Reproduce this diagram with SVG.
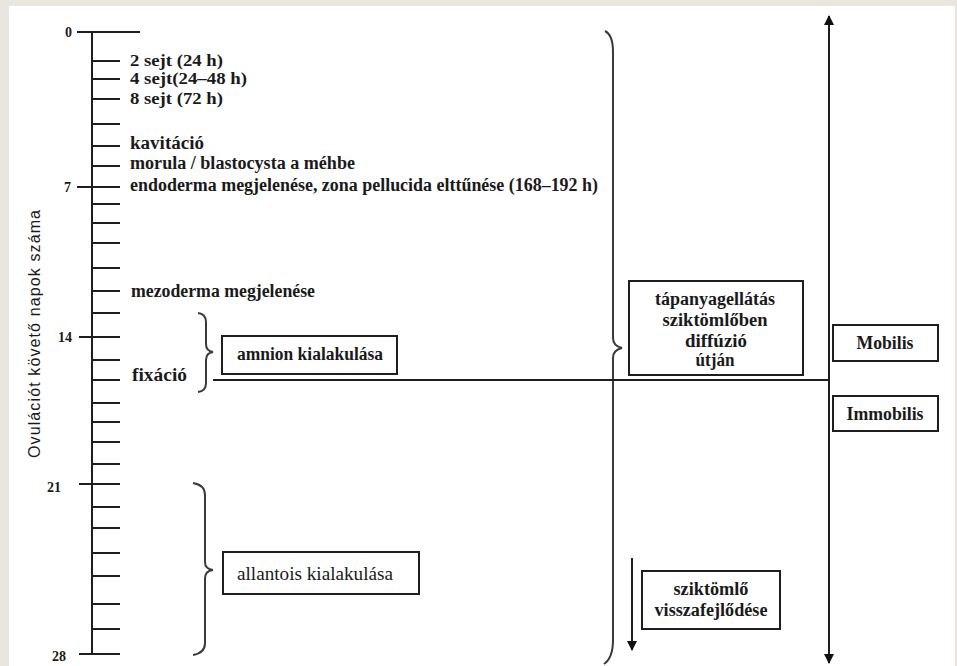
<svg xmlns="http://www.w3.org/2000/svg" width="957" height="666" viewBox="0 0 957 666">
<defs>
<style>
.bg{fill:#e9e5df}
.panel{fill:#ffffff}
.ln{stroke:#1e1e1e;stroke-width:2;fill:none}
.br{stroke:#3a3a3a;stroke-width:2;fill:none}
.box{fill:#ffffff;stroke:#1e1e1e;stroke-width:2}
.t{font-family:"Liberation Serif","Times New Roman",serif;font-size:18px;font-weight:bold;fill:#1a1a1a}
.s{font-size:16px}
.tn{font-family:"Liberation Serif","Times New Roman",serif;font-size:18px;fill:#1a1a1a}
.num{font-family:"Liberation Serif","Times New Roman",serif;font-size:14px;font-weight:bold;fill:#1a1a1a}
.ax{font-family:"Liberation Sans",Arial,sans-serif;font-size:16px;fill:#1a1a1a}
.c{text-anchor:middle}
</style>
<marker id="ah" viewBox="0 0 10 10" refX="9" refY="5" markerWidth="10" markerHeight="10" markerUnits="userSpaceOnUse" orient="auto-start-reverse">
<path d="M0,0 L10,5 L0,10 Z" fill="#111"/>
</marker>
</defs>
<rect class="bg" x="0" y="0" width="957" height="666"/>
<rect class="panel" x="9" y="6" width="946" height="660"/>

<g id="axis">
<line class="ln" x1="92" y1="31" x2="92" y2="655"/>
<path class="ln" d="M77,32H140 M77,187H120 M79,337H120 M79,484H120 M79,654H120"/>
<path class="ln" d="M92,61H120 M92,79H120 M92,99H120 M92,124H120 M92,146H120 M92,166H120 M92,204H120 M92,223H120 M92,243H120 M92,268H120 M92,291H120 M92,313H120 M92,360H120 M92,380H120 M92,403H120 M92,422H120 M92,442H120 M92,464H120 M92,507H120 M92,528H120 M92,553H120 M92,576H120 M92,604H120 M92,629H120"/>
<text class="num" x="65" y="37">0</text>
<text class="num" x="64" y="192">7</text>
<text class="num" x="58" y="342">14</text>
<text class="num" x="47" y="492">21</text>
<text class="num" x="52" y="661">28</text>
<text class="ax" x="0" y="0" transform="translate(40,334) rotate(-90)" text-anchor="middle" textLength="248" lengthAdjust="spacing">Ovulációt követő napok száma</text>
</g>

<g id="events">
<text class="t s" x="130" y="66" textLength="93" lengthAdjust="spacingAndGlyphs">2 sejt (24 h)</text>
<text class="t s" x="130" y="84" textLength="117" lengthAdjust="spacingAndGlyphs">4 sejt(24–48 h)</text>
<text class="t s" x="130" y="104" textLength="93" lengthAdjust="spacingAndGlyphs">8 sejt (72 h)</text>
<text class="t" x="130" y="149" textLength="74" lengthAdjust="spacingAndGlyphs">kavitáció</text>
<text class="t" x="130" y="169" textLength="225" lengthAdjust="spacingAndGlyphs">morula / blastocysta a méhbe</text>
<text class="t" x="130" y="191" textLength="468" lengthAdjust="spacingAndGlyphs">endoderma megjelenése, zona pellucida elttűnése (168–192 h)</text>
<text class="t" x="131" y="297" textLength="184" lengthAdjust="spacingAndGlyphs">mezoderma megjelenése</text>
<text class="t" x="132" y="381" textLength="55" lengthAdjust="spacingAndGlyphs">fixáció</text>
</g>

<g id="connectors">
<path class="br" d="M198,313 Q206,314 206,322 V344 Q206,351 213,352 Q206,353 206,360 V383 Q206,391 198,392"/>
<path class="br" d="M193,483 Q205,485 205,495 V562 Q205,569 213,570 Q205,571 205,578 V643 Q205,653 193,655"/>
<path class="br" d="M605,31 Q613,35 613,52 V338 Q613,346 622,348 Q613,350 613,358 V640 Q613,658 604,664"/>
<line class="ln" x1="213" y1="380" x2="830" y2="380"/>
<line class="ln" x1="829" y1="16" x2="829" y2="663" marker-start="url(#ah)" marker-end="url(#ah)"/>
<line class="ln" x1="632" y1="558" x2="632" y2="650" marker-end="url(#ah)"/>
</g>

<g id="amnion">
<rect class="box" x="222" y="336" width="175" height="38"/>
<text class="t" x="237" y="360" textLength="146" lengthAdjust="spacingAndGlyphs">amnion kialakulása</text>
</g>

<g id="allantois">
<rect class="box" x="223" y="552" width="196" height="42"/>
<text class="tn" x="237" y="580" textLength="156" lengthAdjust="spacingAndGlyphs">allantois kialakulása</text>
</g>

<g id="tapanyag">
<rect class="box" x="629" y="281" width="174" height="94"/>
<text class="t c" x="715" y="305" textLength="120" lengthAdjust="spacingAndGlyphs">tápanyagellátás</text>
<text class="t c" x="715" y="326" textLength="105" lengthAdjust="spacingAndGlyphs">sziktömlőben</text>
<text class="t c" x="716" y="347" textLength="62" lengthAdjust="spacingAndGlyphs">diffúzió</text>
<text class="t c" x="715" y="366" textLength="39" lengthAdjust="spacingAndGlyphs">útján</text>
</g>

<g id="mobilis">
<rect class="box" x="833" y="325" width="105" height="36"/>
<text class="t c" x="885" y="349" textLength="57" lengthAdjust="spacingAndGlyphs">Mobilis</text>
</g>

<g id="immobilis">
<rect class="box" x="833" y="396" width="105" height="35"/>
<text class="t c" x="885" y="420" textLength="77" lengthAdjust="spacingAndGlyphs">Immobilis</text>
</g>

<g id="sziktomlo">
<rect class="box" x="642" y="571" width="138" height="58"/>
<text class="t c" x="711" y="595" textLength="75" lengthAdjust="spacingAndGlyphs">sziktömlő</text>
<text class="t c" x="711" y="616" textLength="113" lengthAdjust="spacingAndGlyphs">visszafejlődése</text>
</g>
</svg>
